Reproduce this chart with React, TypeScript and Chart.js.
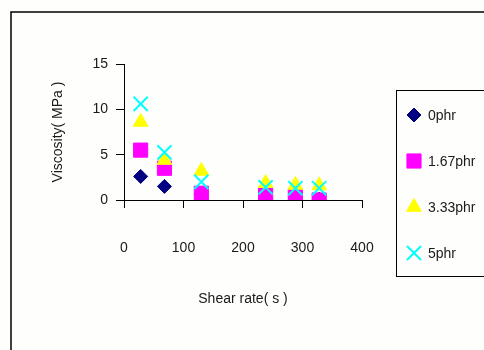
import React, { useEffect, useRef } from 'react';
import { Chart, registerables } from 'chart.js';
import { drawPoint } from 'chart.js/helpers';

Chart.register(...registerables);

const shearRate = [28, 68, 130, 238, 288, 328];
const seriesNames = ['0phr', '1.67phr', '3.33phr', '5phr'];
const visc0 = [2.6, 1.5, 0.6, 0.2, 0.2, 0.1];
const visc167 = [5.5, 3.5, 0.75, 0.55, 0.4, 0.0];
const visc333 = [8.6, 4.4, 3.2, 1.85, 1.65, 1.6];
const visc5 = [10.6, 5.25, 2.0, 1.4, 1.3, 1.3];
const xTicks = [0, 100, 200, 300, 400];
const yTicks = [0, 5, 10, 15];

const FONT = "'Liberation Sans', Arial, sans-serif";
const TEXT = '#1a1a1a';

const styles = [
  { color: '#000080', pointStyle: 'rectRot', radius: 7, bw: 1 },
  { color: '#ff00ff', pointStyle: 'rect', radius: 10, bw: 1 },
  { color: '#ffff00', pointStyle: 'triangle', radius: 8.5, bw: 1 },
  { color: '#00ffff', pointStyle: 'crossRot', radius: 10, bw: 2 },
];

const allSeries = [visc0, visc167, visc333, visc5];

const framePlugin = {
  id: 'frame',
  beforeDraw(chart: any) {
    const ctx = chart.ctx;
    ctx.save();
    ctx.fillStyle = '#fefefc';
    ctx.fillRect(0, 0, chart.width, chart.height);
    ctx.strokeStyle = '#000';
    ctx.lineWidth = 1.5;
    ctx.beginPath();
    ctx.moveTo(11, chart.height + 5);
    ctx.lineTo(11, 12);
    ctx.lineTo(chart.width + 5, 12);
    ctx.stroke();
    ctx.restore();
  },
  afterDraw(chart: any) {
    const ctx = chart.ctx;
    ctx.save();
    ctx.strokeStyle = '#000';
    ctx.lineWidth = 1;
    ctx.strokeRect(396.5, 90.5, 100, 186);
    ctx.font = `14px ${FONT}`;
    ctx.textBaseline = 'middle';
    ctx.textAlign = 'left';
    seriesNames.forEach((name, i) => {
      const y = 115 + i * 46;
      const s = styles[i];
      ctx.fillStyle = s.color;
      ctx.strokeStyle = s.color;
      ctx.lineWidth = s.bw;
      drawPoint(ctx, { pointStyle: s.pointStyle, radius: s.radius, rotation: 0, borderWidth: s.bw } as any, 414, y);
      ctx.fillStyle = TEXT;
      ctx.fillText(name, 428, y + 1);
    });
    ctx.restore();
  },
};

export default function App() {
  const ref = useRef<HTMLCanvasElement>(null);
  useEffect(() => {
    if (!ref.current) return;
    const chart = new Chart(ref.current, {
      type: 'scatter',
      data: {
        datasets: seriesNames.map((name, i) => ({
          label: name,
          data: shearRate.map((x, j) => ({ x, y: allSeries[i][j] })),
          pointStyle: styles[i].pointStyle as any,
          pointRadius: styles[i].radius,
          pointHoverRadius: styles[i].radius,
          backgroundColor: styles[i].color,
          borderColor: styles[i].color,
          pointBorderWidth: styles[i].bw,
          order: 3 - i,
        })),
      },
      plugins: [framePlugin],
      options: {
        animation: false,
        responsive: false,
        layout: { padding: { left: 0, top: 64, right: 122, bottom: 0 } },
        plugins: { legend: { display: false }, tooltip: { enabled: false } },
        scales: {
          x: {
            type: 'linear',
            min: 0,
            max: 400,
            afterFit: (s: any) => { s.height = 150; },
            afterBuildTicks: (s: any) => { s.ticks = xTicks.map((v) => ({ value: v })); },
            ticks: { font: { family: FONT, size: 14 }, color: TEXT, padding: 32 },
            grid: { display: true, drawOnChartArea: false, drawTicks: true, tickLength: 8, color: '#000' },
            border: { display: true, color: '#000', width: 1 },
            title: { display: true, text: 'Shear rate( s )', font: { family: FONT, size: 14 }, color: TEXT, padding: { top: 0, bottom: 42 } },
          },
          y: {
            type: 'linear',
            min: 0,
            max: 15,
            afterFit: (s: any) => { s.width = 124; },
            afterBuildTicks: (s: any) => { s.ticks = yTicks.map((v) => ({ value: v })); },
            ticks: { font: { family: FONT, size: 14 }, color: TEXT, padding: 8 },
            grid: { display: true, drawOnChartArea: false, drawTicks: true, tickLength: 8, color: '#000' },
            border: { display: true, color: '#000', width: 1 },
            title: { display: true, text: 'Viscosity( MPa )', font: { family: FONT, size: 14 }, color: TEXT, padding: { top: 50, bottom: 0 } },
          },
        },
      },
    });
    return () => chart.destroy();
  }, []);
  return (
    <div style={{ position: 'fixed', left: 0, top: 0, width: 484, height: 350 }}>
      <canvas ref={ref} width={484} height={350} style={{ width: 484, height: 350, display: 'block' }} />
    </div>
  );
}
